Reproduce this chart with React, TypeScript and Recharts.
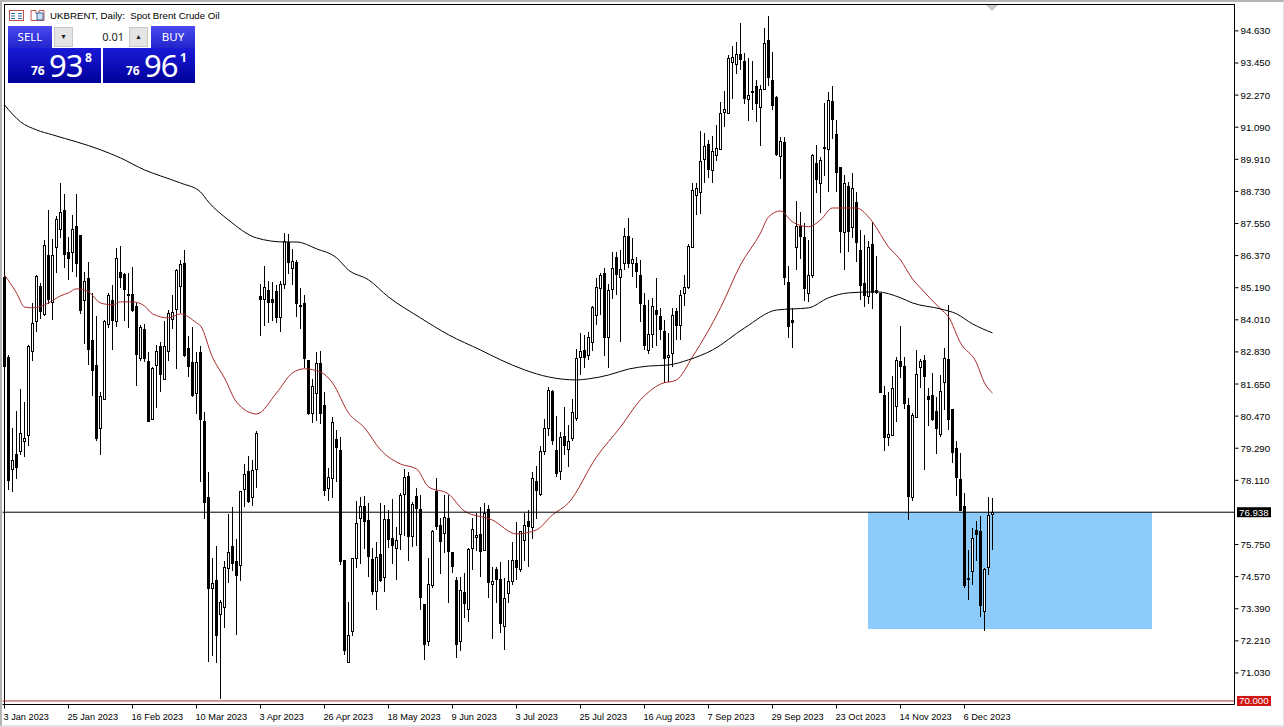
import {
  Bar,
  ComposedChart,
  Line,
  ReferenceArea,
  ReferenceLine,
  XAxis,
  YAxis,
} from "recharts"

const opens = [
  85.60, 82.64, 78.52, 79.07, 79.17, 79.54, 79.78, 82.88, 83.98, 85.25,
  84.23, 86.40, 84.68, 86.70, 87.35, 88.05, 86.49, 86.52, 87.46, 87.13,
  84.72, 85.56, 83.27, 82.35, 80.03, 81.09, 83.85, 84.74, 83.95, 85.75,
  85.70, 84.95, 84.96, 84.50, 82.62, 83.69, 82.50, 80.36, 82.35, 83.03,
  81.84, 82.88, 84.03, 84.41, 85.27, 86.09, 82.98, 82.46, 81.31, 82.82,
  80.28, 77.49, 74.14, 74.45, 73.18, 73.47, 74.90, 75.68, 75.15, 74.98,
  77.78, 78.47, 77.49, 78.52, 84.89, 84.79, 85.11, 84.76, 85.07, 84.10,
  85.32, 86.86, 85.90, 86.12, 84.56, 84.62, 82.53, 80.57, 81.31, 82.41,
  80.87, 77.82, 78.19, 79.62, 79.23, 75.19, 71.45, 72.59, 75.25, 76.72,
  77.17, 76.65, 75.21, 74.06, 75.39, 74.55, 76.69, 75.98, 75.62, 76.13,
  77.60, 78.27, 76.05, 77.54, 77.05, 73.56, 72.22, 74.27, 77.73, 76.47,
  76.19, 76.73, 75.47, 74.45, 72.19, 74.01, 73.37, 75.64, 76.02, 76.14,
  75.55, 77.05, 74.29, 74.84, 74.48, 72.77, 73.96, 74.40, 75.18, 74.84,
  75.90, 76.62, 76.41, 78.07, 77.61, 79.17, 80.03, 81.40, 79.23, 78.47,
  79.74, 79.25, 79.68, 80.40, 82.64, 82.91, 82.72, 83.21, 84.19, 85.17,
  85.73, 83.37, 85.14, 86.31, 85.60, 86.09, 87.10, 86.09, 86.09, 85.65,
  84.55, 82.91, 83.48, 84.38, 84.16, 83.61, 82.64, 82.78, 84.34, 83.81,
  84.99, 85.21, 86.70, 88.58, 88.70, 89.91, 90.48, 89.50, 90.05, 90.29,
  91.66, 91.60, 93.48, 93.40, 93.78, 93.53, 92.12, 92.42, 92.61, 91.85,
  92.48, 94.30, 92.83, 92.19, 90.03, 90.54, 85.39, 84.01, 86.67, 87.46,
  87.05, 84.99, 85.66, 89.77, 89.03, 90.37, 90.29, 92.06, 90.84, 89.61,
  87.22, 88.93, 87.41, 88.34, 86.58, 85.36, 84.90, 86.79, 85.09, 84.99,
  81.24, 79.72, 79.78, 80.86, 82.50, 82.32, 80.87, 77.48, 80.43, 82.26,
  82.54, 81.21, 81.25, 80.66, 79.82, 81.74, 82.56, 80.72, 79.30, 78.15,
  77.17, 74.53, 74.76, 76.29, 76.24, 73.29, 74.92, 76.89,
]

const closes = [
  82.29, 78.07, 78.86, 78.58, 79.84, 79.66, 83.03, 83.88, 85.62, 84.31,
  86.76, 84.72, 86.40, 87.71, 87.96, 86.40, 86.25, 87.34, 86.07, 84.35,
  85.44, 82.90, 82.13, 79.62, 81.21, 83.98, 84.93, 83.97, 86.27, 85.53,
  85.09, 84.93, 84.34, 82.72, 83.74, 82.56, 80.27, 82.23, 82.87, 81.99,
  83.05, 84.25, 84.29, 85.85, 86.07, 82.68, 82.26, 81.21, 82.46, 80.33,
  77.27, 74.11, 74.33, 72.40, 73.63, 74.92, 75.47, 75.04, 74.61, 77.70,
  78.33, 77.32, 78.49, 79.84, 84.72, 85.21, 84.62, 84.64, 84.09, 85.32,
  86.92, 86.09, 86.19, 84.58, 84.50, 82.57, 80.54, 81.58, 82.41, 80.55,
  77.70, 78.22, 80.26, 79.28, 75.12, 71.85, 72.42, 75.25, 76.53, 77.15,
  76.57, 75.31, 74.02, 75.28, 74.41, 76.68, 75.90, 75.68, 75.92, 77.58,
  78.23, 76.01, 77.23, 77.06, 73.77, 72.06, 74.29, 76.24, 76.41, 75.86,
  76.77, 75.49, 74.94, 72.06, 74.09, 73.55, 75.58, 76.31, 76.09, 75.49,
  76.90, 74.33, 74.40, 74.43, 72.84, 73.78, 74.40, 75.18, 74.87, 76.23,
  76.46, 76.41, 78.19, 77.70, 79.17, 80.03, 81.44, 79.54, 78.33, 79.70,
  79.39, 79.56, 80.61, 82.60, 82.88, 82.59, 83.37, 84.48, 85.23, 85.66,
  83.34, 85.11, 85.91, 85.66, 85.87, 87.10, 86.07, 86.24, 85.75, 84.59,
  83.03, 83.48, 84.50, 84.19, 83.62, 82.56, 82.71, 84.18, 83.77, 84.92,
  85.21, 86.73, 88.77, 88.85, 89.83, 90.40, 89.50, 90.22, 90.32, 91.60,
  91.76, 93.62, 93.66, 93.78, 93.56, 92.13, 92.26, 92.37, 91.95, 92.48,
  94.18, 92.89, 91.87, 90.07, 90.60, 85.56, 83.76, 83.89, 87.44, 87.07,
  85.15, 85.64, 90.05, 89.15, 89.89, 90.34, 92.09, 91.36, 89.40, 87.22,
  89.03, 87.22, 88.85, 86.85, 85.26, 84.87, 86.68, 84.99, 85.01, 81.31,
  79.68, 79.82, 81.50, 82.54, 82.26, 80.92, 77.51, 80.50, 82.02, 82.48,
  81.90, 81.07, 80.31, 80.01, 81.39, 82.60, 80.33, 79.13, 78.18, 76.99,
  74.21, 74.43, 75.98, 76.11, 73.50, 74.84, 76.84, 76.94,
]

const highs = [
  85.66, 82.72, 80.03, 80.64, 81.46, 80.98, 83.09, 84.62, 85.66, 85.35,
  86.95, 88.05, 86.97, 87.81, 89.03, 88.64, 87.07, 87.87, 88.64, 87.13,
  85.78, 86.15, 84.99, 84.15, 81.34, 84.01, 85.01, 85.29, 86.64, 86.73,
  85.72, 85.72, 85.94, 84.62, 83.82, 83.86, 82.84, 82.29, 83.09, 83.21,
  83.95, 84.37, 84.93, 85.87, 86.21, 86.58, 83.42, 83.76, 82.81, 83.05,
  80.61, 78.43, 75.25, 75.70, 73.72, 75.16, 76.88, 77.12, 75.94, 77.73,
  78.71, 79.01, 78.86, 79.94, 85.33, 85.97, 85.44, 85.39, 85.29, 85.45,
  87.19, 87.17, 86.60, 86.21, 85.17, 84.92, 82.53, 81.85, 82.82, 82.88,
  81.35, 78.55, 80.45, 79.96, 79.72, 75.19, 73.65, 75.25, 77.35, 77.51,
  77.54, 77.27, 75.61, 75.86, 77.27, 77.21, 77.02, 77.42, 76.41, 77.64,
  78.53, 78.40, 77.33, 77.82, 77.58, 73.56, 75.25, 76.29, 78.19, 76.72,
  77.58, 77.58, 75.49, 74.57, 74.57, 74.70, 75.62, 76.72, 76.90, 77.12,
  77.27, 77.21, 74.94, 74.94, 75.11, 74.51, 75.19, 75.84, 76.57, 76.25,
  76.90, 77.02, 78.40, 78.62, 79.38, 80.36, 81.53, 81.44, 80.48, 79.90,
  80.82, 80.15, 81.09, 82.93, 83.52, 83.46, 83.58, 84.50, 85.54, 85.73,
  85.91, 85.33, 86.52, 86.52, 86.58, 87.38, 87.75, 87.01, 86.31, 86.22,
  85.01, 84.75, 84.81, 85.54, 84.44, 84.01, 83.52, 84.44, 84.44, 85.11,
  85.66, 86.80, 89.03, 89.05, 90.95, 90.89, 90.62, 90.75, 91.17, 92.01,
  92.42, 93.75, 94.09, 94.21, 94.91, 93.81, 93.62, 93.53, 92.83, 92.64,
  94.73, 95.18, 93.87, 92.22, 90.72, 90.72, 85.99, 84.44, 88.36, 87.99,
  87.56, 86.95, 90.11, 90.44, 90.01, 91.97, 92.40, 92.61, 91.36, 89.64,
  89.34, 89.09, 89.40, 88.72, 87.32, 87.13, 86.89, 87.62, 86.34, 84.99,
  81.56, 81.37, 81.93, 82.66, 83.79, 82.66, 81.13, 80.58, 82.90, 82.57,
  82.70, 81.50, 82.05, 81.19, 81.99, 82.97, 84.56, 80.72, 79.56, 79.11,
  77.64, 75.55, 76.35, 76.60, 76.80, 74.88, 77.49, 77.45,
]

const lows = [
  82.29, 77.76, 77.66, 78.13, 79.05, 78.96, 79.38, 82.48, 83.58, 84.01,
  84.17, 84.60, 83.98, 85.72, 87.01, 85.91, 85.48, 85.78, 85.60, 84.23,
  83.15, 82.35, 81.21, 79.57, 79.02, 81.07, 83.74, 82.90, 83.74, 85.17,
  83.95, 83.70, 84.29, 81.58, 82.51, 82.48, 80.27, 80.33, 80.76, 81.37,
  81.78, 82.51, 83.68, 82.21, 84.25, 82.64, 81.90, 81.19, 80.52, 78.06,
  76.68, 71.45, 71.63, 71.39, 70.08, 72.71, 74.33, 74.76, 72.40, 74.43,
  77.12, 77.27, 77.18, 77.84, 83.43, 83.76, 83.91, 83.94, 83.88, 83.58,
  85.14, 85.70, 85.29, 84.13, 83.66, 82.23, 80.51, 80.24, 80.29, 80.21,
  77.51, 77.33, 77.48, 78.06, 75.00, 71.69, 71.39, 72.37, 74.88, 75.04,
  75.61, 74.55, 73.87, 73.35, 74.36, 74.02, 75.62, 75.04, 74.45, 75.53,
  76.05, 75.13, 75.68, 75.68, 73.35, 71.49, 72.03, 74.15, 76.29, 74.67,
  75.46, 73.60, 74.73, 71.60, 71.86, 73.04, 72.90, 74.82, 75.49, 74.54,
  75.53, 73.80, 72.31, 73.62, 72.49, 71.86, 73.60, 74.27, 74.45, 74.76,
  75.13, 74.94, 75.92, 76.66, 77.54, 79.05, 79.72, 79.41, 78.25, 78.15,
  79.05, 78.62, 79.54, 80.27, 81.96, 82.23, 82.56, 82.85, 83.83, 84.19,
  82.66, 82.26, 84.81, 84.93, 83.18, 85.85, 85.91, 85.58, 85.17, 83.95,
  82.91, 82.78, 82.97, 83.03, 83.27, 81.71, 81.71, 82.27, 83.27, 83.27,
  84.52, 85.14, 86.64, 87.87, 87.89, 89.05, 89.21, 89.03, 89.83, 90.23,
  91.11, 91.58, 92.15, 93.04, 93.20, 91.95, 91.30, 91.73, 91.30, 90.41,
  92.46, 92.61, 91.75, 90.03, 89.19, 85.29, 83.33, 82.97, 85.81, 86.27,
  84.68, 84.68, 85.54, 88.66, 87.95, 89.28, 88.72, 90.68, 88.72, 86.48,
  85.85, 86.52, 87.01, 86.15, 84.74, 84.50, 84.56, 84.44, 84.93, 81.31,
  79.17, 79.39, 79.74, 80.27, 81.89, 80.74, 76.66, 77.36, 80.39, 81.50,
  78.47, 80.11, 80.27, 79.08, 79.72, 80.70, 79.97, 78.74, 77.54, 76.96,
  74.15, 73.72, 74.27, 75.13, 73.08, 72.55, 74.61, 75.53,
]

// moving averages at the bars where the curve bends: [bar, price]
const slowAverage = [
  [0, 91.91], [4, 91.29], [8, 90.99], [12, 90.81], [24, 90.26], [29, 89.96], [35, 89.52],
  [39, 89.30], [44, 89.04], [49, 88.71], [51, 88.34], [56, 87.68], [63, 87.02], [70, 86.87],
  [73, 86.87], [78, 86.62], [83, 86.29], [86, 85.84], [91, 85.48], [96, 84.85], [104, 84.08],
  [111, 83.46], [119, 82.90], [124, 82.54], [130, 82.17], [136, 81.91], [143, 81.80],
  [146, 81.84], [151, 81.98], [156, 82.20], [161, 82.31], [166, 82.35], [171, 82.54],
  [177, 82.90], [185, 83.71], [193, 84.37], [201, 84.45], [206, 84.82], [211, 85.00],
  [218, 85.04], [224, 84.82], [227, 84.63], [234, 84.41], [238, 84.23], [242, 83.86], [247, 83.53],
]

const fastAverage = [
  [0, 85.66], [3, 85.00], [5, 84.48], [7, 84.45], [11, 84.63], [14, 84.89], [16, 85.00],
  [18, 85.15], [21, 85.04], [24, 84.63], [27, 84.56], [29, 84.67], [32, 84.67], [35, 84.52],
  [37, 84.23], [41, 84.08], [44, 84.23], [48, 83.90], [49, 83.79], [52, 82.63], [55, 81.87],
  [58, 80.99], [63, 80.55], [68, 81.32], [72, 82.06], [75, 82.21], [79, 82.09], [82, 81.69],
  [86, 80.59], [90, 80.04], [94, 79.23], [99, 78.71], [103, 78.53], [106, 77.87], [111, 77.61],
  [115, 76.98], [122, 76.65], [128, 76.14], [133, 76.29], [137, 76.84], [141, 77.28],
  [148, 78.97], [154, 80.07], [159, 81.07], [164, 81.65], [168, 81.80], [172, 82.65],
  [179, 84.45], [184, 86.03], [189, 87.20], [191, 87.79], [194, 88.01], [197, 87.61],
  [201, 87.43], [204, 87.68], [207, 88.12], [213, 88.12], [216, 87.79], [217, 87.61],
  [221, 86.69], [224, 86.21], [227, 85.51], [229, 85.18], [234, 84.41], [236, 84.12],
  [239, 83.16], [243, 82.43], [245, 81.69], [247, 81.32],
]

const tickBars = [0, 16, 32, 48, 64, 80, 96, 112, 128, 144, 160, 176, 192, 208, 224, 240]
const tickDates = [
  "3 Jan 2023", "25 Jan 2023", "16 Feb 2023", "10 Mar 2023", "3 Apr 2023", "26 Apr 2023",
  "18 May 2023", "9 Jun 2023", "3 Jul 2023", "25 Jul 2023", "16 Aug 2023", "7 Sep 2023",
  "29 Sep 2023", "23 Oct 2023", "14 Nov 2023", "6 Dec 2023",
]
const priceTicks = [
  94.63, 93.45, 92.27, 91.09, 89.91, 88.73, 87.55, 86.37, 85.19, 84.01, 82.83, 81.65, 80.47,
  79.29, 78.11, 75.75, 74.57, 73.39, 72.21, 71.03,
]

const barSlots = 308 // the chart leaves empty room right of the last candle
const lastPrice = 76.938
const floorPrice = 70
const zoneBottom = 72.65
const zoneFirstBar = 216
const zoneLastBar = 286

const font = '"Liberation Sans", Arial, sans-serif'

const fast = new Map(fastAverage.map(([b, v]) => [b, v]))
const slow = new Map(slowAverage.map(([b, v]) => [b, v]))

const rows = Array.from({ length: barSlots }, (_, i) => ({
  bar: i,
  open: opens[i],
  close: closes[i],
  high: highs[i],
  low: lows[i],
  range: i < opens.length ? [lows[i], highs[i]] : null,
  fast: fast.get(i) ?? null,
  slow: slow.get(i) ?? null,
}))

function Candle(props: any) {
  const { x, y, width, height, payload } = props
  if (!payload || payload.range == null) return null
  const { open, close, high, low } = payload
  const at = (p: number) => y + ((high - p) / (high - low)) * height
  const cx = Math.floor(x + width / 2)
  const top = Math.round(at(Math.max(open, close)))
  const bottom = Math.round(at(Math.min(open, close)))
  const up = close >= open
  return (
    <g shapeRendering="crispEdges">
      <rect x={cx} y={Math.round(y)} width={1} height={Math.max(1, Math.round(height))} fill="#000" />
      {up ? (
        <rect
          x={cx - 0.5}
          y={top + 0.5}
          width={2}
          height={Math.max(1, bottom - top)}
          fill="#fff"
          stroke="#000"
          strokeWidth={1}
        />
      ) : (
        <rect x={cx - 1} y={top} width={3} height={Math.max(2, bottom - top)} fill="#000" />
      )}
    </g>
  )
}

// the zone's edges fall between two bars in the reference, so nudge it off the band edge
function Zone({ x, y, width, height }: any) {
  return <rect x={x + 1.5} y={y} width={width} height={height} fill="#8ccbfa" shapeRendering="crispEdges" />
}

function DateTick({ x, y, payload }: any) {
  const label = tickDates[tickBars.indexOf(payload.value)]
  return (
    <text x={x - 1} y={y + 9} fontSize={9.2} fontFamily={font} fill="#000" textAnchor="start">
      {label}
    </text>
  )
}

function PriceTick({ x, y, payload }: any) {
  return (
    <text x={x} y={y + 3.5} fontSize={9.7} fontFamily={font} fill="#000" textAnchor="start">
      {payload.value.toFixed(3)}
    </text>
  )
}

function PriceTag({ viewBox, text, fill }: any) {
  const x = viewBox.x + viewBox.width + 2.5
  return (
    <g>
      <rect x={x} y={viewBox.y - 5} width={34} height={10} fill={fill} />
      <text x={x + 2} y={viewBox.y + 3.5} fontSize={9.7} fontFamily={font} fill="#fff">
        {text}
      </text>
    </g>
  )
}

const panelBlue = "linear-gradient(#1a1ad8, #00009a)"
const buttonBlue = "linear-gradient(#4a4af0, #2424cc)"

function Quote({ left, width, big, small }: { left: number; width: number; big: string; small: string }) {
  return (
    <div
      style={{
        position: "absolute",
        left,
        top: 48,
        width,
        height: 35,
        background: panelBlue,
        color: "#fff",
        fontFamily: '"Noto Sans", sans-serif',
      }}
    >
      <span style={{ position: "absolute", left: 23, top: 15, fontSize: 12, fontWeight: 700, lineHeight: "16px" }}>76</span>
      <span style={{ position: "absolute", left: 41, top: -1, fontSize: 31, lineHeight: "36px", letterSpacing: -1 }}>{big}</span>
      <span style={{ position: "absolute", left: 77, top: 3, fontSize: 12, fontWeight: 700, lineHeight: "14px" }}>{small}</span>
    </div>
  )
}

function Button({ left, width, text }: { left: number; width: number; text: string }) {
  return (
    <div
      style={{
        position: "absolute",
        left,
        top: 26,
        width,
        height: 22,
        background: buttonBlue,
        color: "#fff",
        fontFamily: '"Noto Sans", sans-serif',
        fontSize: 11.5,
        lineHeight: "21px",
        textAlign: "center",
      }}
    >
      {text}
    </div>
  )
}

function Header() {
  const stepper = {
    position: "absolute",
    top: 27,
    width: 19,
    height: 20,
    background: "#e4e4e4",
    border: "1px solid #c8c8c8",
    boxSizing: "border-box",
    color: "#222",
    fontSize: 7,
    lineHeight: "18px",
    textAlign: "center",
  } as const
  return (
    <>
      <svg style={{ position: "absolute", left: 9, top: 9 }} width={38} height={13}>
        <rect x={0.5} y={1.5} width={14} height={10} fill="#fff" stroke="#c0504d" />
        <path d="M2 4.5h4M2 7h4M2 9.5h4M9 4.5h4M9 7h4M9 9.5h4" stroke="#3465a4" />
        <path d="M22 1.5h5v3h3v-3h5v10h-13z" fill="#fff" stroke="#c0504d" />
        <path d="M28 4h6v7h-6z" fill="#cfe0f5" stroke="#3465a4" />
      </svg>
      <div
        style={{
          position: "absolute",
          left: 50,
          top: 9,
          fontFamily: '"Liberation Sans", Arial, sans-serif',
          fontSize: 9.7,
          lineHeight: "13px",
          color: "#000",
          whiteSpace: "pre",
        }}
      >
        {"UKBRENT, Daily:  Spot Brent Crude Oil"}
      </div>
      <Button left={8} width={44} text="SELL" />
      <Button left={151} width={44} text="BUY" />
      <div style={{ ...stepper, left: 54 }}>▼</div>
      <div
        style={{
          position: "absolute",
          left: 73,
          top: 27,
          width: 56,
          height: 20,
          boxSizing: "border-box",
          paddingRight: 5,
          background: "#fff",
          fontFamily: '"Noto Sans", sans-serif',
          fontSize: 11,
          lineHeight: "20px",
          textAlign: "right",
          color: "#222",
        }}
      >
        0.01
      </div>
      <div style={{ ...stepper, left: 129 }}>▲</div>
      <Quote left={8} width={93} big="93" small="8" />
      <Quote left={103} width={92} big="96" small="1" />
    </>
  )
}

export default function App() {
  return (
    <div
      style={{
        position: "fixed",
        left: 0,
        top: 0,
        width: 1284,
        height: 727,
        overflow: "hidden",
        background: "#fff",
        boxSizing: "border-box",
        border: "2px solid #b4b4b4",
        borderTopWidth: 2,
        borderRightColor: "#e4e4e4",
        borderRightWidth: 1,
        borderBottomColor: "#e4e4e4",
        borderBottomWidth: 2,
      }}
    >
      <div style={{ position: "absolute", left: -2, top: -2, width: 1284, height: 727 }}>
        {/* top and left edge of the chart window */}
        <div style={{ position: "absolute", left: 4, top: 4, width: 1231, height: 1, background: "#000" }} />
        <div style={{ position: "absolute", left: 4, top: 4, width: 1, height: 700, background: "#000" }} />
        <div style={{ position: "absolute", left: 0, top: 0 }}>
          <ComposedChart
            width={1284}
            height={727}
            data={rows}
            barCategoryGap={0}
            margin={{ top: 4.5, right: 0, bottom: 0, left: 2.5 }}
          >
            <XAxis
              dataKey="bar"
              ticks={tickBars}
              interval={0}
              height={22.5}
              stroke="#000"
              tickSize={4}
              tick={<DateTick />}
            />
            <YAxis
              orientation="right"
              width={49.5}
              domain={[69.87, 95.6]}
              ticks={priceTicks}
              interval={0}
              stroke="#000"
              tickSize={4}
              tick={<PriceTick />}
            />
            <ReferenceArea
              x1={zoneFirstBar}
              x2={zoneLastBar}
              y1={lastPrice}
              y2={zoneBottom}
              shape={<Zone />}
            />
            <Bar dataKey="range" shape={<Candle />} isAnimationActive={false} />
            <Line
              dataKey="fast"
              type="monotone"
              stroke="#a82c2c"
              strokeWidth={1}
              dot={false}
              connectNulls
              isAnimationActive={false}
            />
            <Line
              dataKey="slow"
              type="monotone"
              stroke="#000"
              strokeWidth={1}
              dot={false}
              connectNulls
              isAnimationActive={false}
            />
            <ReferenceLine
              y={lastPrice}
              stroke="#000"
              strokeWidth={1}
              label={(p: any) => <PriceTag viewBox={p.viewBox} text="76.938" fill="#000" />}
            />
            <ReferenceLine
              y={floorPrice}
              stroke="#a83232"
              strokeWidth={1}
              label={(p: any) => <PriceTag viewBox={p.viewBox} text="70.000" fill="#d01414" />}
            />
          </ComposedChart>
        </div>
        <svg style={{ position: "absolute", left: 986, top: 5 }} width={12} height={6}>
          <polygon points="0,0 12,0 6,6" fill="#c8c8c8" />
        </svg>
        <Header />
      </div>
    </div>
  )
}
